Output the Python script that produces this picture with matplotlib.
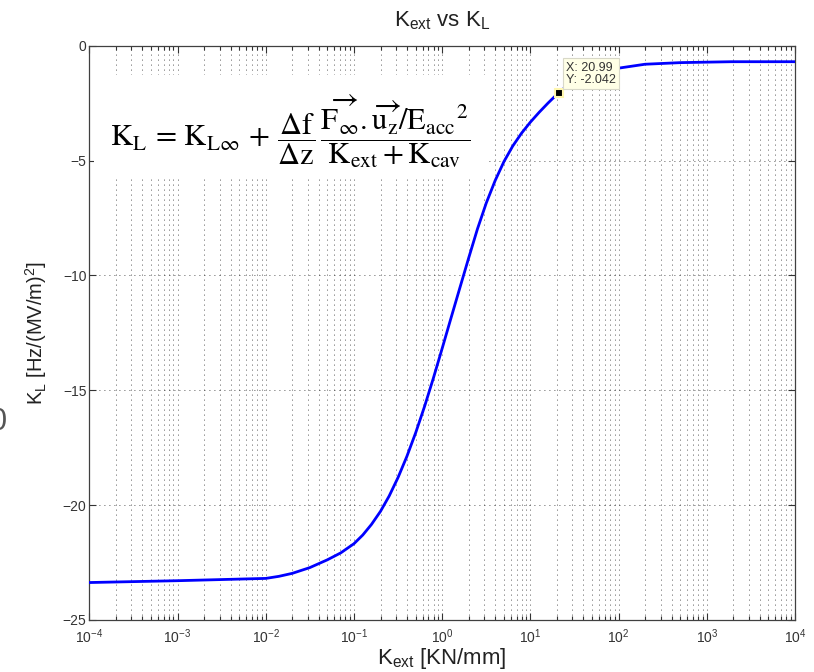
import matplotlib.pyplot as plt
import matplotlib.patches as mpatches
from matplotlib.ticker import LogLocator, NullFormatter

plt.rcParams['font.family'] = ['Liberation Sans', 'DejaVu Sans']
plt.rcParams['mathtext.fontset'] = 'custom'
plt.rcParams['mathtext.rm'] = 'Liberation Sans'
plt.rcParams['mathtext.it'] = 'Liberation Sans:italic'

# external stiffness [KN/mm] and the resulting Lorentz coefficient
k_ext = [1e-4, 1e-3, 1e-2, 0.0141, 0.02, 0.0316, 0.05, 0.0708,
         0.1, 0.126, 0.158, 0.2, 0.251, 0.316, 0.398, 0.501, 0.631, 0.794,
         1.0, 1.259, 1.585, 1.995, 2.512, 3.162, 3.981, 5.012, 6.31, 7.943,
         10, 12.59, 15.85, 20.99, 25.12, 31.62, 39.81, 50.12, 63.1, 79.43,
         100, 199.5, 501.2, 1905, 1e4]
k_l = [-23.37, -23.29, -23.19, -23.10, -22.97, -22.72, -22.38, -22.08,
       -21.68, -21.30, -20.84, -20.27, -19.60, -18.80, -17.88, -16.85, -15.71, -14.48,
       -13.18, -11.86, -10.55, -9.25, -7.98, -6.85, -5.88, -5.05, -4.37, -3.81,
       -3.33, -2.90, -2.50, -2.042, -1.80, -1.55, -1.37, -1.23, -1.12, -1.04,
       -0.98, -0.81, -0.74, -0.70, -0.70]

tip_x = 20.99
tip_y = -2.042

y_ticks = [0, -5, -10, -15, -20, -25]

fig = plt.figure(figsize=(8.14, 6.72), dpi=100)
ax = fig.add_axes([0.1097, 0.0774, 0.867, 0.8547])

dots = (0, (1, 5))
grid_kw = dict(color='#202020', linestyle=dots, linewidth=0.6)
ax.set_xscale('log')
ax.set_xlim(1e-4, 1e4)
ax.set_ylim(-25, 0)
ax.set_yticks(y_ticks)
ax.xaxis.set_major_locator(LogLocator(base=10, numticks=20))
ax.xaxis.set_minor_locator(LogLocator(base=10, subs=range(2, 10), numticks=20))
ax.xaxis.set_minor_formatter(NullFormatter())
ax.set_axisbelow(True)
ax.grid(True, which='major', axis='both', **grid_kw)
ax.grid(True, which='minor', axis='x', **grid_kw)

ax.tick_params(which='both', direction='in', top=True, right=True, labelsize=10,
               colors='#333333')
ax.tick_params(axis='x', pad=5)
ax.tick_params(axis='y', pad=2)
ax.tick_params(which='major', length=5, width=0.8)
ax.tick_params(which='minor', length=3, width=0.8)
for s in ax.spines.values():
    s.set_color('#404040')
    s.set_linewidth(0.9)

# white panel behind the formula hides the grid there
panel = mpatches.Rectangle((0.007, 0.768), 0.555, 0.181, transform=ax.transAxes,
                           facecolor='white', edgecolor='none', zorder=1)
ax.add_patch(panel)

ax.plot(k_ext, k_l, color='#0000ff', linewidth=2.0, zorder=3)

# data cursor
ax.plot([tip_x], [tip_y], marker='s', markersize=5.5, color='black',
        markeredgecolor='#fff7b0', markeredgewidth=1.5, zorder=5)
ax.annotate('X: %.2f\nY: %.3f' % (tip_x, tip_y), xy=(tip_x, tip_y),
            xytext=(7, 7), textcoords='offset pixels', ha='left', va='bottom',
            fontsize=9, color='#333333', linespacing=1.0, zorder=6,
            bbox=dict(boxstyle='square,pad=0.25', facecolor='#ffffe6',
                      edgecolor='#d8d8c8', linewidth=0.8))

eq = (r'$\mathrm{K}_\mathrm{L}\,=\,\mathrm{K}_{\mathrm{L}\infty}\,+\,'
      r'\dfrac{\Delta \mathrm{f}}{\Delta \mathrm{z}}\,'
      r'\dfrac{\overrightarrow{\mathrm{F}_\infty}.\overrightarrow{\mathrm{u}_\mathrm{z}}'
      r'/\mathrm{E}_\mathrm{acc}{}^2}{\mathrm{K}_\mathrm{ext} + \mathrm{K}_\mathrm{cav}}$')
ax.text(0.03, 0.852, eq, transform=ax.transAxes, fontsize=22, ha='left', va='center',
        math_fontfamily='stix', color='black', zorder=4)

ax.set_title(r'K$_\mathregular{ext}$ vs K$_\mathregular{L}$', fontsize=16, pad=14, color='#222222')
ax.set_xlabel(r'K$_\mathregular{ext}$ [KN/mm]', fontsize=16, labelpad=0, color='#222222')
ax.set_ylabel(r'K$_\mathregular{L}$ [Hz/(MV/m)$^\mathregular{2}$]', fontsize=14.5, labelpad=10,
              color='#222222')

fig.text(-0.012, 0.372, '0', fontsize=22, color='#555555', va='center')

fig.savefig('out.png', dpi=100)
